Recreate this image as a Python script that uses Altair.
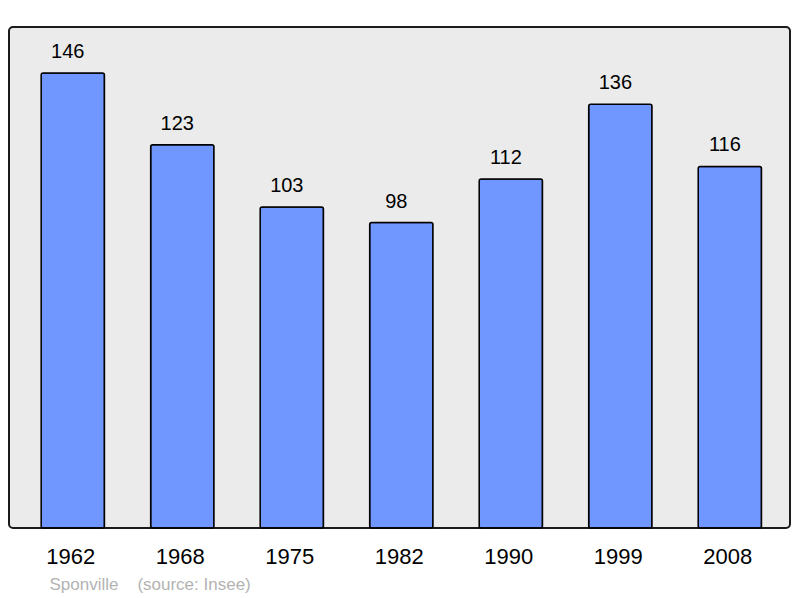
import altair as alt
import pandas as pd

years = ["1962", "1968", "1975", "1982", "1990", "1999", "2008"]
population = [146, 123, 103, 98, 112, 136, 116]
footer = "Sponville\u00a0\u00a0\u00a0\u00a0(source: Insee)"

df = pd.DataFrame({"year": years, "pop": population})

FONT = "Liberation Sans"

x = alt.X(
    "year:N",
    sort=None,
    scale=alt.Scale(paddingInner=0.422, paddingOuter=0.277, align=0.53),
    axis=alt.Axis(
        labelAngle=0,
        labelFontSize=22,
        labelFont=FONT,
        labelColor="#000000",
        labelPadding=35,
        labelBaseline="alphabetic",
        labelOffset=-2,
        ticks=False,
        tickSize=0,
        domain=False,
        grid=False,
        title=footer,
        titleX=40,
        titleY=61,
        titleAlign="left",
        titleAnchor="start",
        titleBaseline="alphabetic",
        titleFont=FONT,
        titleFontSize=17,
        titleFontWeight="normal",
        titleColor="#b3b3b3",
    ),
)
y = alt.Y(
    "pop:Q",
    scale=alt.Scale(domain=[0, 160.76], nice=False, zero=True),
    axis=None,
)

bars = alt.Chart(df).mark_bar(
    color="#7097ff", stroke="#000000", strokeWidth=1.5, cornerRadius=2
).encode(x=x, y=y)

labels = alt.Chart(df).mark_text(
    baseline="alphabetic", dy=-15, dx=-5, fontSize=20, font=FONT, color="#000000"
).encode(x=x, y=y, text="pop:Q")

chart = (
    alt.layer(bars, labels)
    .properties(
        width=781,
        height=501,
        autosize=alt.AutoSizeParams(type="none"),
        padding={"left": 1, "top": 19, "right": 2, "bottom": 66},
        background="#ffffff",
    )
    .configure_view(
        stroke="#1a1a1a", strokeWidth=2, fill="#ebebeb", cornerRadius=4
    )
)

chart.save("out.html", embed_options={"renderer": "svg", "actions": False})
